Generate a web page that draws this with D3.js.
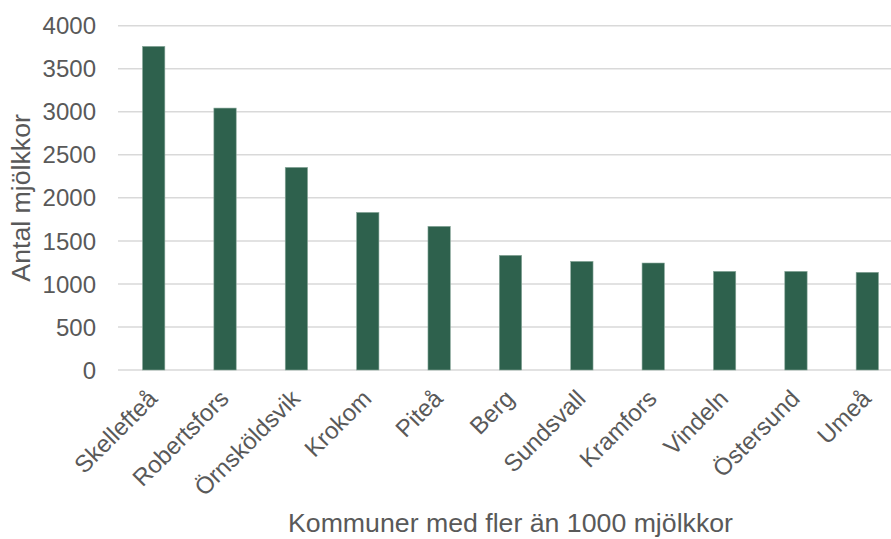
<!DOCTYPE html>
<html><head><meta charset="utf-8">
<script src="https://cdn.jsdelivr.net/npm/d3@7"></script>
<style>body{margin:0;background:#fff}svg{display:block}text{font-family:"Liberation Sans",Arial,sans-serif;fill:#595959}</style>
</head><body><svg id="c" width="891" height="539"></svg>
<script>
const categories = ["Skellefteå","Robertsfors","Örnsköldsvik","Krokom","Piteå","Berg","Sundsvall","Kramfors","Vindeln","Östersund","Umeå"];
const values = [3760,3043,2354,1831,1669,1332,1262,1243,1146,1146,1135];
const yTicks = [0,500,1000,1500,2000,2500,3000,3500,4000];
const yTitle = "Antal mjölkkor";
const xTitle = "Kommuner med fler än 1000 mjölkkor";

const svg = d3.select("#c");
const m = {l:118, r:903, t:25.7, b:370};
const x = d3.scaleBand().domain(categories).range([m.l, m.r]).paddingInner(0.687).paddingOuter(0.3435);
const y = d3.scaleLinear().domain([0,4000]).range([m.b, m.t]);
const fs = "24px", ft = "26.7px";

svg.append("g").selectAll("line").data(yTicks).join("line")
  .attr("x1", m.l).attr("x2", 891).attr("y1", d=>y(d)).attr("y2", d=>y(d))
  .attr("stroke", "#d9d9d9").attr("stroke-width", 1.5);

svg.append("g").selectAll("text").data(yTicks).join("text")
  .attr("x", 96).attr("y", d=>y(d)).attr("dy","0.36em").attr("text-anchor","end")
  .style("font-size", fs).text(d=>d);

svg.append("g").selectAll("rect").data(values).join("rect")
  .attr("x", (d,i)=>x(categories[i])).attr("width", x.bandwidth())
  .attr("y", d=>y(d)).attr("height", d=>y(0)-y(d))
  .attr("fill", "#2e614d").attr("stroke","#8aa99c").attr("stroke-width",0.6);

svg.append("g").selectAll("text").data(categories).join("text")
  .attr("transform", d=>`translate(${x(d)+x.bandwidth()/2-1},${394}) rotate(-45)`)
  .attr("text-anchor","end").attr("dy","0.36em")
  .style("font-size", fs).text(d=>d);

svg.append("text").attr("transform", `translate(30,${(m.t+m.b)/2}) rotate(-90)`)
  .attr("text-anchor","middle").style("font-size", ft).text(yTitle);

svg.append("text").attr("x", (m.l+m.r)/2).attr("y", 532).attr("text-anchor","middle")
  .style("font-size", ft).text(xTitle);
</script></body></html>
